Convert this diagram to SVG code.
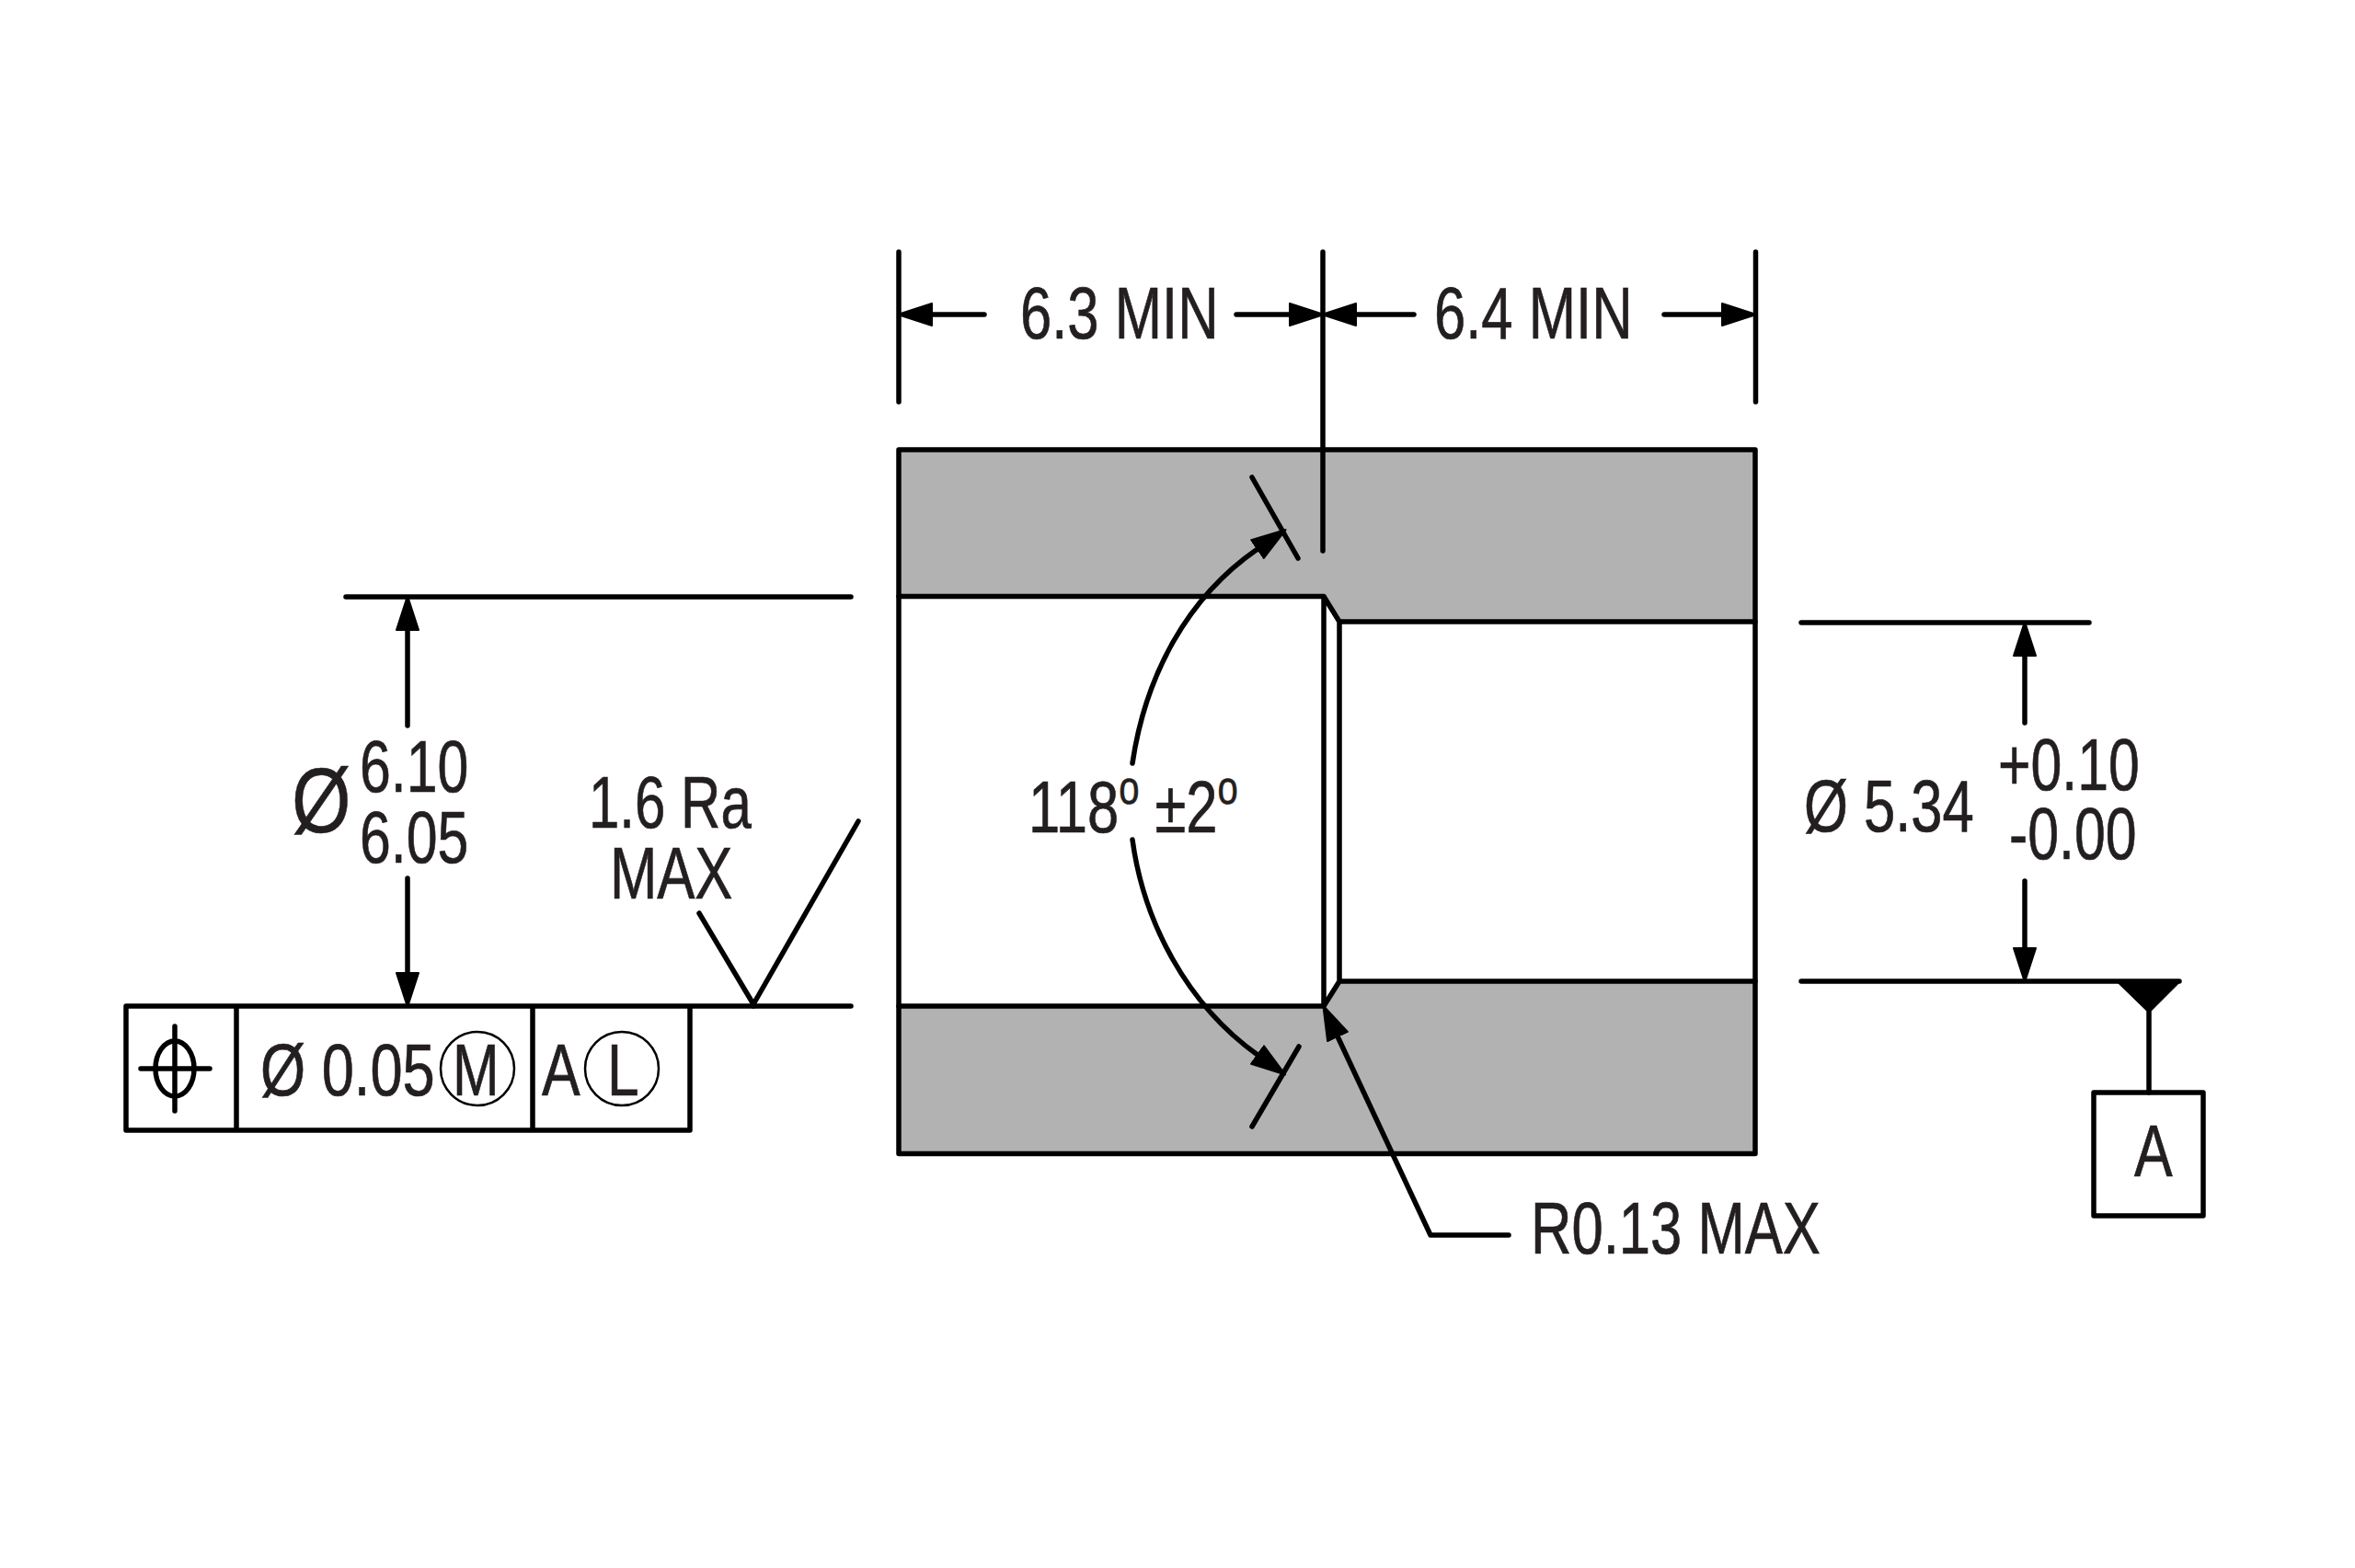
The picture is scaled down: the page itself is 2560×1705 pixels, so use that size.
<svg xmlns="http://www.w3.org/2000/svg" width="2560" height="1705" viewBox="0 0 2560 1705">
<style>
text{font-family:"Liberation Sans",Arial,sans-serif;font-size:80px;fill:#231f20;stroke:#231f20;stroke-width:.7}
.ln{fill:none;stroke:#000;stroke-width:5.5;stroke-linecap:round;stroke-linejoin:round}
.sup{font-size:52px}
.big{font-size:100px;stroke-width:.5}
.thin{stroke-width:2.5}
</style>
<defs>
<marker id="ah" markerUnits="userSpaceOnUse" markerWidth="42" markerHeight="32" refX="1" refY="16" orient="auto">
<path d="M1,4 L38,16 L1,28Z" fill="#000" stroke="#000" stroke-width="2" stroke-linejoin="round"/>
</marker>
</defs>
<rect width="2560" height="1705" fill="#fff"/>
<g id="part">
<rect x="977" y="489" width="931" height="765.5" fill="#b2b2b2"/>
<path d="M977 648.5H1439L1456 676H1908V1067H1456L1439 1094H977Z" fill="#fff"/>
<rect class="ln" x="977" y="489" width="931" height="765.5"/>
<path class="ln" d="M977 648.5H1439L1456 676H1908M977 1094H1439L1456 1067H1908M1439 648.5V1094M1456 676V1067"/>
</g>
<g id="connectors">
<path class="ln" d="M977 274V437M1438 274V599M1908.5 274V437"/>
<path class="ln" d="M1070 342H1013" marker-end="url(#ah)"/>
<path class="ln" d="M1344 342H1402" marker-end="url(#ah)"/>
<path class="ln" d="M1537 342H1474" marker-end="url(#ah)"/>
<path class="ln" d="M1809 342H1872" marker-end="url(#ah)"/>
<path class="ln" d="M376 649H925M819 1094H925"/>
<path class="ln" d="M443 789V685" marker-end="url(#ah)"/>
<path class="ln" d="M443 955V1058" marker-end="url(#ah)"/>
<path class="ln" d="M760 993L819 1092L933 893"/>
<path class="ln" d="M1958 677H2271M1958 1067H2369"/>
<path class="ln" d="M2201 786V713" marker-end="url(#ah)"/>
<path class="ln" d="M2201 958V1031" marker-end="url(#ah)"/>
<path class="ln" d="M1361 519L1411 607M1412 1138L1361 1225"/>
<path class="ln" d="M1231 830C1245 735 1290 650 1367 597" marker-end="url(#ah)"/>
<path class="ln" d="M1231 913C1243 1002 1290 1092 1367 1147" marker-end="url(#ah)"/>
<path class="ln" d="M1640 1343H1555L1454 1127" marker-end="url(#ah)"/>
<path class="ln" d="M2336 1100V1188"/>
<path d="M2302 1067H2369L2336 1100Z" fill="#000" stroke="#000" stroke-width="3" stroke-linejoin="round"/>
</g>
<g id="feature-control-frame">
<path class="ln" d="M137 1094H750V1229H137ZM257 1094V1229M579 1094V1229M750 1094H819"/>
<ellipse class="ln" cx="190" cy="1162" rx="21" ry="30"/>
<path class="ln" d="M190 1116V1208M153 1162H228"/>
<text transform="translate(283 1191) scale(.79 1)">Ø 0.05</text>
<circle class="ln thin" cx="519" cy="1162" r="40"/>
<text transform="translate(492 1191) scale(.76 1)">M</text>
<text transform="translate(589 1191) scale(.78 1)">A</text>
<circle class="ln thin" cx="676" cy="1162" r="40"/>
<text transform="translate(660 1191) scale(.78 1)">L</text>
</g>
<g id="dim-6-3"><text transform="translate(1109 368) scale(.77 1)">6.3 MIN</text></g>
<g id="dim-6-4"><text transform="translate(1559 368) scale(.77 1)">6.4 MIN</text></g>
<g id="dim-6-10">
<text class="big" transform="translate(317 905) scale(.83 1)">Ø</text>
<text transform="translate(391 861) scale(.76 1)">6.10</text>
<text transform="translate(391 938) scale(.76 1)">6.05</text>
</g>
<g id="finish">
<text transform="translate(640 900) scale(.75 1)">1.6 Ra</text>
<text transform="translate(663 977) scale(.77 1)">MAX</text>
</g>
<g id="angle"><text transform="translate(1118 905) scale(.77 1)">118<tspan class="sup" dy="-31">o</tspan><tspan dy="31"> ±2</tspan><tspan class="sup" dy="-31">o</tspan></text></g>
<g id="radius"><text transform="translate(1664 1363) scale(.77 1)">R0.13 MAX</text></g>
<g id="dim-5-34">
<text transform="translate(1961 904) scale(.77 1)">Ø 5.34</text>
<text transform="translate(2172 859) scale(.76 1)">+0.10</text>
<text transform="translate(2184 934) scale(.76 1)">-0.00</text>
</g>
<g id="datum-a">
<rect class="ln" x="2276" y="1188" width="119" height="134" fill="#fff"/>
<text transform="translate(2320 1279) scale(.78 1)">A</text>
</g>
</svg>
